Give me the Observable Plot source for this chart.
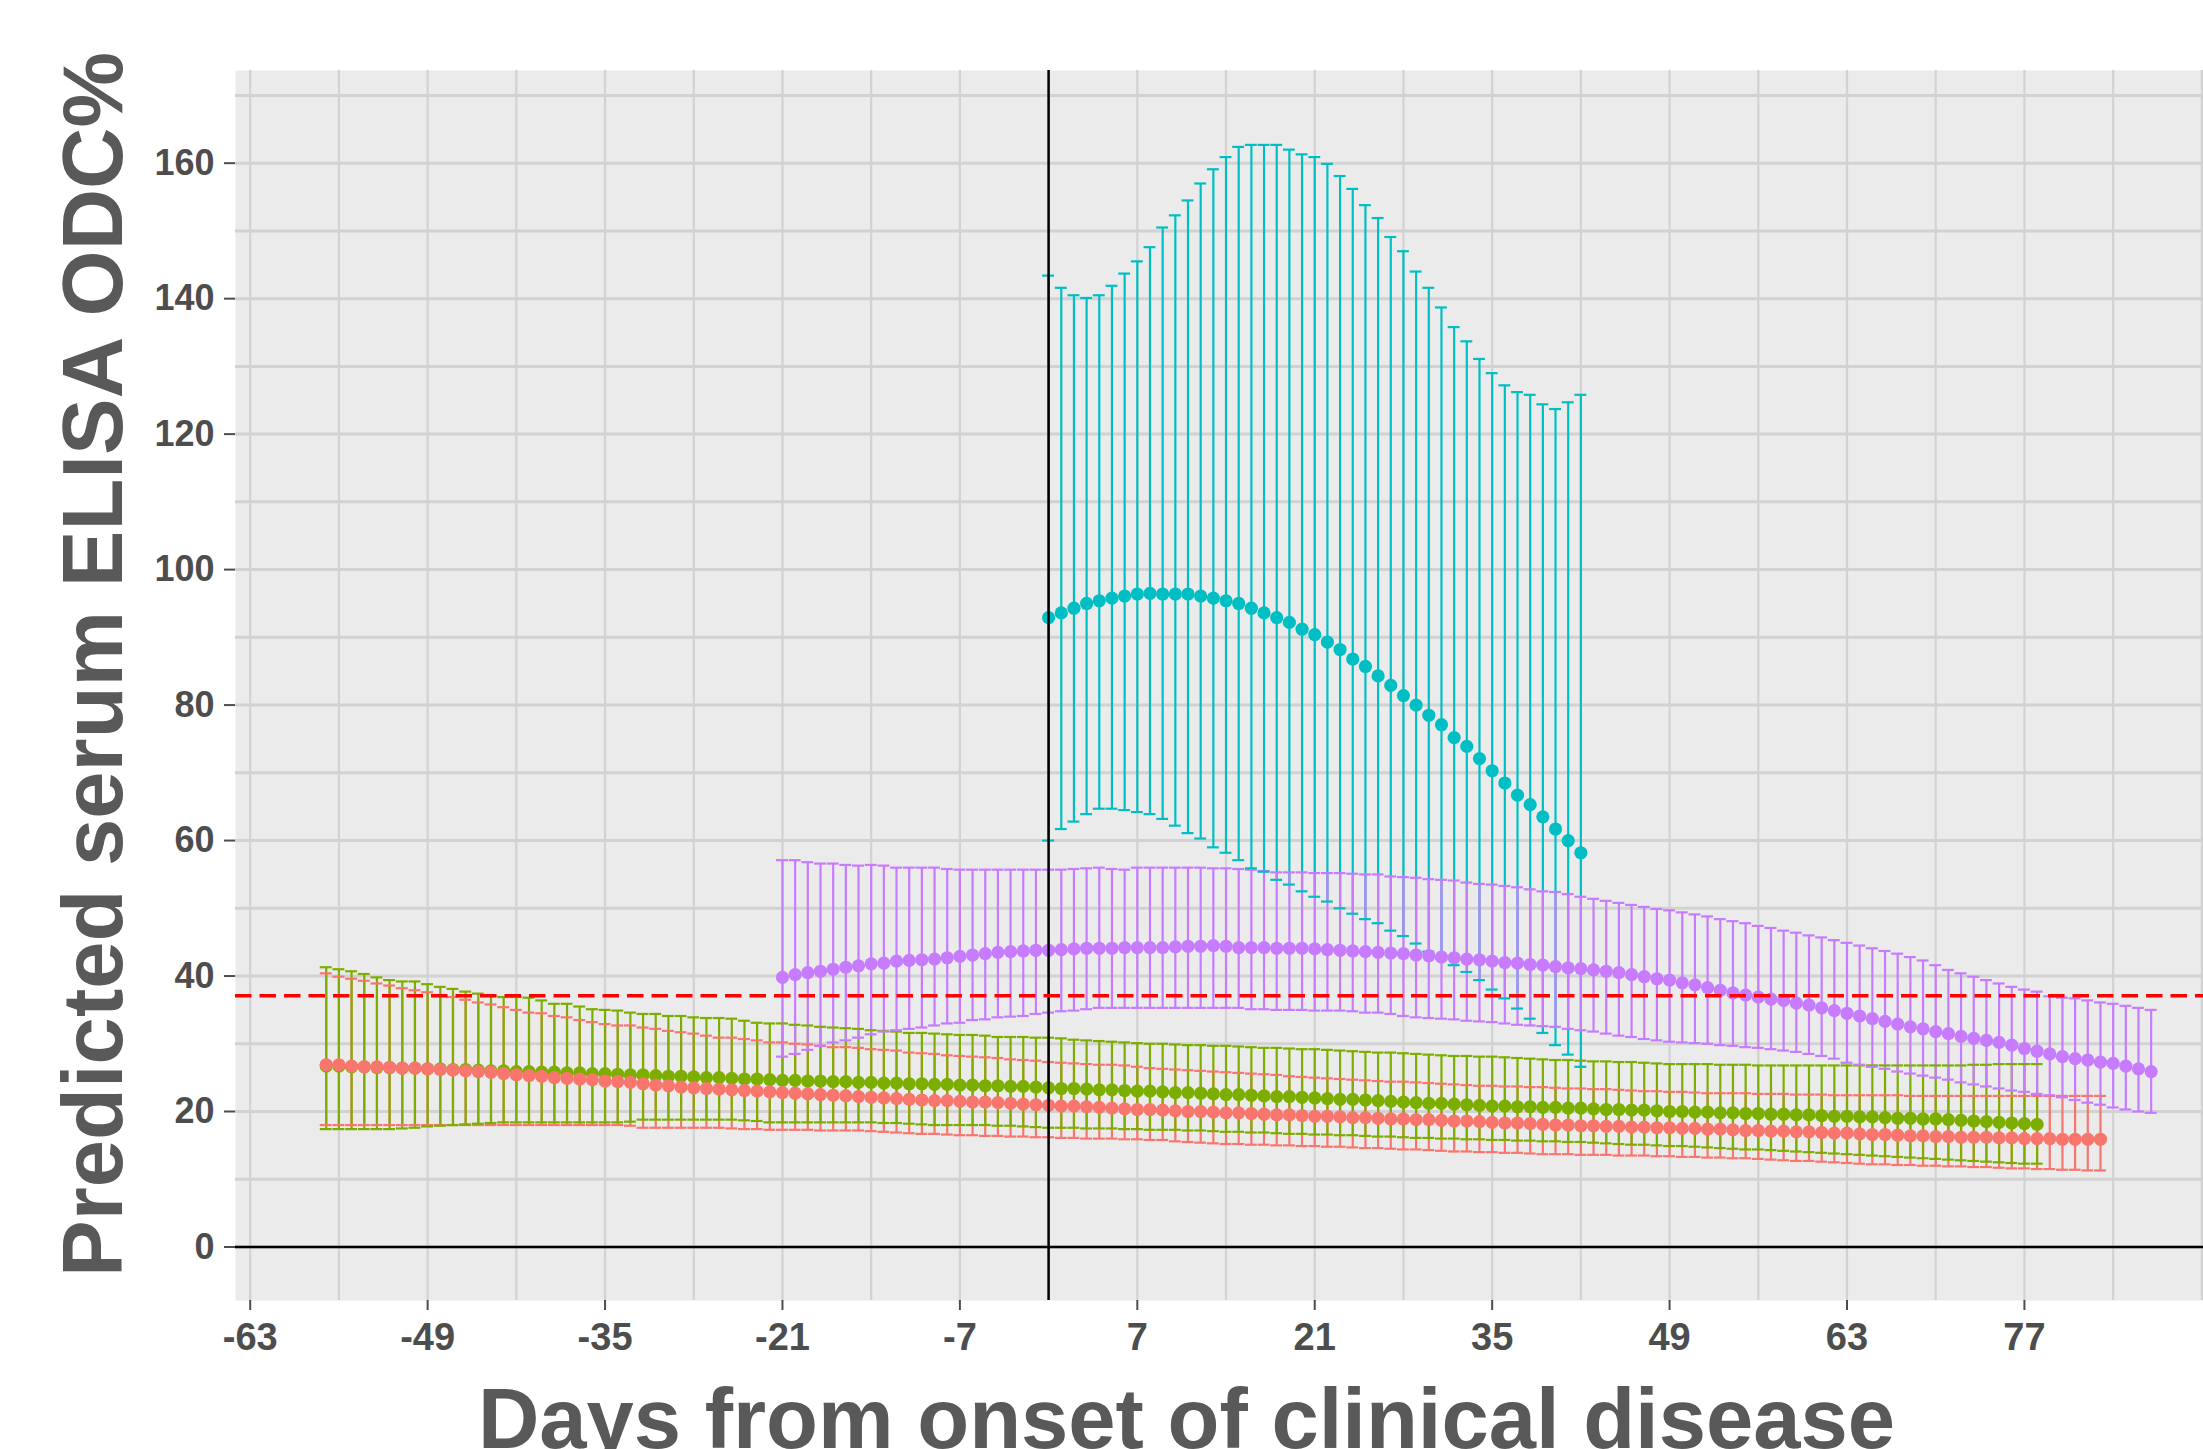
<!DOCTYPE html>
<html><head><meta charset="utf-8">
<script src="https://cdn.jsdelivr.net/npm/d3@7"></script>
<script src="https://cdn.jsdelivr.net/npm/@observablehq/plot@0.6"></script>
<style>
html,body{margin:0;padding:0;background:#fff;}
#chart svg{display:block;}
</style>
</head><body><div id="chart"></div>
<script>
// ---------- data ----------
const groupNames = ["Group 1", "Group 2", "Group 3", "Group 4"];
const groupColors = ["#F8766D", "#7CAE00", "#00BFC4", "#C77CFF"];

// Group 1 (salmon): days -57 .. 83
const redStart = -57;
const redMean = [
  26.9,26.9,26.7,26.6,26.6,26.5,26.4,26.4,26.3,26.2,
  26.1,26.0,25.9,25.8,25.6,25.4,25.3,25.2,25.0,24.9,
  24.8,24.7,24.5,24.4,24.3,24.1,23.9,23.8,23.6,23.5,
  23.4,23.3,23.2,23.1,23.0,22.9,22.8,22.7,22.6,22.5,
  22.4,22.3,22.2,22.1,22.0,21.9,21.8,21.7,21.6,21.6,
  21.5,21.4,21.4,21.3,21.2,21.1,21.0,20.9,20.8,20.8,
  20.7,20.6,20.5,20.4,20.3,20.3,20.2,20.1,20.0,20.0,
  19.9,19.8,19.8,19.7,19.6,19.5,19.5,19.4,19.3,19.3,
  19.2,19.1,19.1,19.0,18.9,18.9,18.8,18.8,18.7,18.6,
  18.6,18.5,18.4,18.3,18.3,18.2,18.1,18.0,18.0,17.9,
  17.9,17.8,17.8,17.7,17.7,17.6,17.6,17.5,17.5,17.4,
  17.4,17.3,17.2,17.2,17.1,17.1,17.0,17.0,16.9,16.8,
  16.8,16.7,16.6,16.6,16.5,16.4,16.4,16.3,16.3,16.2,
  16.2,16.2,16.1,16.1,16.0,16.0,16.0,15.9,15.9,15.9,
  15.9
];
const redHi = [
  40.4,39.9,39.6,39.3,38.9,38.6,38.2,37.9,37.6,37.2,
  36.9,36.5,36.1,35.8,35.4,35.0,34.6,34.5,34.1,33.9,
  33.5,33.2,32.9,32.7,32.7,32.4,32.2,31.9,31.7,31.5,
  31.2,30.9,30.9,30.7,30.5,30.2,30.2,30.0,29.9,29.7,
  29.5,29.5,29.4,29.2,29.1,29.0,28.7,28.6,28.5,28.3,
  28.2,28.1,28.0,27.9,27.7,27.6,27.5,27.3,27.2,27.1,
  27.0,26.9,26.9,26.8,26.6,26.4,26.3,26.2,26.1,26.0,
  25.9,25.8,25.7,25.6,25.5,25.4,25.2,25.1,25.0,24.9,
  24.8,24.7,24.6,24.5,24.4,24.4,24.3,24.2,24.1,24.0,
  23.9,23.8,23.8,23.7,23.7,23.6,23.6,23.5,23.4,23.4,
  23.3,23.3,23.2,23.1,23.0,23.0,22.9,22.9,22.8,22.7,
  22.7,22.7,22.7,22.6,22.6,22.6,22.5,22.5,22.5,22.4,
  22.4,22.4,22.4,22.4,22.4,22.3,22.3,22.3,22.3,22.3,
  22.3,22.3,22.3,22.3,22.3,22.3,22.3,22.3,22.3,22.3,
  22.3
];
const redLo = [
  18.0,18.0,18.0,18.0,18.0,18.0,18.0,18.0,18.0,18.0,
  18.0,18.0,18.0,18.0,18.0,18.0,18.0,18.0,18.0,18.0,
  18.0,18.0,18.0,18.0,17.9,17.6,17.6,17.6,17.6,17.6,
  17.6,17.6,17.5,17.4,17.4,17.3,17.3,17.3,17.3,17.2,
  17.2,17.2,17.2,17.1,17.0,16.9,16.8,16.7,16.7,16.6,
  16.5,16.5,16.4,16.4,16.3,16.3,16.2,16.2,16.1,16.1,
  16.0,16.0,16.0,15.9,15.9,15.8,15.8,15.6,15.5,15.4,
  15.3,15.2,15.2,15.1,15.1,15.0,15.0,14.9,14.9,14.8,
  14.8,14.7,14.6,14.6,14.5,14.4,14.4,14.3,14.2,14.1,
  14.1,14.0,14.0,13.9,13.9,13.8,13.7,13.7,13.7,13.6,
  13.6,13.6,13.5,13.5,13.5,13.4,13.4,13.3,13.3,13.2,
  13.2,13.1,13.1,13.0,12.9,12.8,12.7,12.7,12.6,12.5,
  12.4,12.3,12.2,12.2,12.1,12.1,12.0,12.0,11.9,11.9,
  11.8,11.8,11.7,11.6,11.6,11.5,11.5,11.4,11.4,11.3,
  11.3
];

// Group 2 (green): days -57 .. 78
const greenStart = -57;
const greenMean = [
  26.7,26.7,26.6,26.6,26.5,26.5,26.4,26.4,26.3,26.3,
  26.2,26.2,26.1,26.0,26.0,25.9,25.9,25.8,25.8,25.7,
  25.7,25.6,25.6,25.5,25.4,25.4,25.3,25.2,25.2,25.1,
  25.0,25.0,24.9,24.8,24.8,24.7,24.6,24.6,24.5,24.5,
  24.4,24.4,24.3,24.3,24.2,24.2,24.1,24.1,24.0,24.0,
  23.9,23.9,23.8,23.8,23.7,23.7,23.6,23.5,23.4,23.4,
  23.3,23.2,23.2,23.1,23.0,23.0,22.9,22.8,22.8,22.7,
  22.6,22.5,22.5,22.4,22.3,22.2,22.2,22.1,22.0,21.9,
  21.8,21.8,21.7,21.6,21.5,21.4,21.3,21.2,21.2,21.1,
  21.0,20.9,20.8,20.8,20.7,20.7,20.6,20.6,20.5,20.5,
  20.4,20.3,20.3,20.2,20.2,20.1,20.0,20.0,19.9,19.9,
  19.8,19.8,19.7,19.7,19.6,19.6,19.5,19.5,19.4,19.3,
  19.3,19.2,19.2,19.1,19.0,19.0,18.9,18.9,18.8,18.7,
  18.6,18.5,18.4,18.3,18.2,18.1
];
const greenHi = [
  41.3,41.0,40.7,40.3,39.8,39.4,39.2,39.2,38.8,38.4,
  38.1,37.7,37.4,37.1,36.9,36.9,36.8,36.4,35.9,35.9,
  35.5,35.1,35.0,34.9,34.6,34.4,34.4,34.1,34.1,33.9,
  33.8,33.8,33.7,33.4,33.1,33.0,33.0,32.8,32.7,32.5,
  32.4,32.3,32.2,32.0,31.9,31.8,31.6,31.6,31.5,31.4,
  31.3,31.3,31.2,31.0,31.0,31.0,30.9,30.9,30.8,30.6,
  30.5,30.4,30.3,30.2,30.1,30.0,30.0,29.9,29.8,29.8,
  29.7,29.7,29.6,29.5,29.4,29.4,29.3,29.2,29.2,29.1,
  29.0,28.9,28.8,28.7,28.7,28.6,28.5,28.4,28.3,28.2,
  28.2,28.1,28.1,28.0,27.9,27.8,27.7,27.6,27.6,27.5,
  27.4,27.4,27.3,27.3,27.2,27.1,27.0,27.0,27.0,27.0,
  26.9,26.9,26.9,26.8,26.8,26.8,26.8,26.8,26.8,26.8,
  26.8,26.8,26.8,26.8,26.8,26.8,26.8,26.8,26.8,26.8,
  26.9,26.9,27.0,27.0,27.0,27.0
];
const greenLo = [
  17.4,17.4,17.4,17.4,17.4,17.4,17.5,17.6,17.8,17.9,
  18.0,18.1,18.2,18.3,18.4,18.4,18.4,18.4,18.4,18.4,
  18.4,18.4,18.4,18.4,18.5,18.8,18.8,18.8,18.8,18.8,
  18.8,18.8,18.8,18.7,18.6,18.4,18.4,18.4,18.4,18.4,
  18.4,18.4,18.4,18.4,18.3,18.3,18.2,18.1,18.0,18.0,
  18.0,18.0,18.0,17.9,17.9,17.8,17.7,17.6,17.6,17.6,
  17.5,17.5,17.5,17.4,17.4,17.3,17.3,17.3,17.2,17.2,
  17.1,17.0,17.0,16.9,16.9,16.8,16.7,16.7,16.6,16.6,
  16.5,16.5,16.4,16.3,16.3,16.2,16.1,16.1,16.0,16.0,
  15.9,15.9,15.8,15.8,15.7,15.7,15.6,15.6,15.5,15.5,
  15.4,15.3,15.2,15.1,15.1,15.0,14.9,14.9,14.8,14.7,
  14.6,14.5,14.4,14.4,14.3,14.2,14.1,14.0,13.9,13.8,
  13.7,13.6,13.5,13.4,13.3,13.2,13.1,13.0,12.9,12.8,
  12.7,12.6,12.5,12.4,12.3,12.3
];

// Group 3 (cyan): days 0 .. 42
const cyanStart = 0;
const cyanMean = [
  92.9,93.6,94.3,95.0,95.4,95.8,96.1,96.4,96.5,96.4,
  96.4,96.4,96.1,95.8,95.4,95.0,94.3,93.6,92.9,92.2,
  91.2,90.4,89.3,88.2,86.8,85.7,84.3,82.9,81.4,80.0,
  78.5,77.1,75.2,73.9,72.1,70.3,68.5,66.7,65.3,63.5,
  61.7,60.0,58.2
];
const cyanHi = [
  143.4,141.6,140.5,140.1,140.5,141.9,143.7,145.5,147.6,150.5,
  152.3,154.5,157.0,159.1,160.9,162.4,162.7,162.7,162.7,162.0,
  161.3,160.9,159.9,158.1,156.2,153.8,151.9,149.1,147.0,144.0,
  141.6,138.7,135.8,133.7,131.1,129.0,127.2,126.2,125.8,124.4,
  123.7,124.7,125.8
];
const cyanLo = [
  60.0,61.7,62.8,63.9,64.7,64.7,64.5,64.2,63.9,63.2,
  62.2,61.1,60.3,59.0,58.2,57.1,55.9,55.4,54.2,53.5,
  52.5,51.7,51.0,50.0,49.2,48.4,47.8,46.7,45.9,44.8,
  43.6,42.6,41.6,40.6,39.4,38.0,36.7,35.2,33.7,31.6,
  29.8,28.4,26.6
];

// Group 4 (purple): days -21 .. 87
const purpleStart = -21;
const purpleMean = [
  39.8,40.2,40.5,40.7,41.0,41.3,41.5,41.8,41.9,42.2,
  42.3,42.4,42.5,42.7,42.9,43.1,43.3,43.5,43.6,43.7,
  43.8,43.8,43.9,44.0,44.1,44.1,44.1,44.2,44.2,44.2,
  44.2,44.3,44.4,44.4,44.5,44.4,44.2,44.2,44.2,44.1,
  44.1,44.1,44.0,43.9,43.8,43.7,43.6,43.5,43.4,43.3,
  43.1,43.0,42.8,42.7,42.5,42.4,42.2,42.0,41.9,41.7,
  41.6,41.4,41.2,41.1,40.9,40.7,40.5,40.2,39.9,39.6,
  39.4,39.0,38.7,38.3,37.9,37.5,37.2,36.9,36.6,36.4,
  36.0,35.7,35.3,34.9,34.5,34.1,33.7,33.3,32.9,32.5,
  32.2,31.8,31.5,31.1,30.8,30.5,30.2,29.8,29.3,28.9,
  28.5,28.1,27.8,27.6,27.3,27.1,26.7,26.3,25.9
];
const purpleHi = [
  57.1,57.1,56.8,56.6,56.6,56.4,56.3,56.4,56.3,56.0,
  56.0,56.0,56.0,55.8,55.7,55.7,55.7,55.7,55.7,55.7,
  55.7,55.7,55.7,55.8,55.9,56.0,55.8,55.7,56.0,56.0,
  56.0,56.0,56.0,56.0,55.9,55.9,55.8,55.7,55.5,55.3,
  55.3,55.3,55.2,55.2,55.2,55.1,55.0,55.0,54.7,54.6,
  54.5,54.3,54.2,54.1,53.8,53.6,53.5,53.3,53.1,52.8,
  52.5,52.4,52.1,51.7,51.4,51.1,50.8,50.5,50.2,49.9,
  49.7,49.4,49.1,48.8,48.4,48.1,47.8,47.4,47.1,46.7,
  46.4,46.0,45.7,45.3,44.9,44.5,44.1,43.7,43.3,42.8,
  42.3,41.6,40.9,40.4,39.9,39.4,38.9,38.4,38.0,37.7,
  37.0,36.8,36.7,36.4,36.1,35.9,35.6,35.3,35.0
];
const purpleLo = [
  28.1,28.5,29.1,29.7,30.2,30.5,30.9,31.4,31.8,32.0,
  32.2,32.4,32.7,33.0,33.1,33.5,33.6,33.9,34.0,34.1,
  34.4,34.6,34.8,34.9,35.1,35.3,35.3,35.3,35.3,35.3,
  35.3,35.3,35.3,35.3,35.3,35.3,35.3,35.1,35.1,35.0,
  35.0,35.0,34.9,34.9,34.9,34.8,34.6,34.6,34.4,34.1,
  33.9,33.8,33.7,33.6,33.4,33.3,33.2,33.0,32.8,32.7,
  32.6,32.5,32.2,32.0,31.8,31.5,31.2,31.0,30.7,30.5,
  30.3,30.2,30.1,30.0,29.8,29.7,29.5,29.4,29.2,29.0,
  28.8,28.5,28.2,27.8,27.2,26.9,26.6,26.3,25.9,25.6,
  25.3,25.0,24.7,24.3,24.0,23.7,23.4,23.1,22.9,22.6,
  22.4,22.1,21.7,21.3,21.0,20.6,20.3,20.0,19.8
];

const cutoff = 37.1;
const xTicks = [-63, -49, -35, -21, -7, 7, 21, 35, 49, 63, 77];
const xGrid = [-63,-56,-49,-42,-35,-28,-21,-14,-7,0,7,14,21,28,35,42,49,56,63,70,77,84,91];
const yTicks = [0, 20, 40, 60, 80, 100, 120, 140, 160];
const yGrid = [0,10,20,30,40,50,60,70,80,90,100,110,120,130,140,150,160,170];
const xTitle = "Days from onset of clinical disease";
const yTitle = "Predicted serum ELISA ODC%";

// ---------- table ----------
function rowsFor(name, start, mean, lo, hi) {
  return mean.map((m, i) => ({group: name, day: start + i, mean: m, lo: lo[i], hi: hi[i]}));
}
const rRows = rowsFor(groupNames[0], redStart, redMean, redLo, redHi);
const gRows = rowsFor(groupNames[1], greenStart, greenMean, greenLo, greenHi);
const cRows = rowsFor(groupNames[2], cyanStart, cyanMean, cyanLo, cyanHi);
const pRows = rowsFor(groupNames[3], purpleStart, purpleMean, purpleLo, purpleHi);
const barRows = [...rRows, ...gRows, ...cRows, ...pRows];
const dotRows = [...gRows, ...rRows, ...cRows, ...pRows];

const capHalf = 0.47;
const font = "'Liberation Sans', Arial, Helvetica, sans-serif";

const chart = Plot.plot({
  width: 2203,
  height: 1449,
  marginLeft: 235,
  marginRight: 0,
  marginTop: 70,
  marginBottom: 149,
  style: {background: "#ffffff", fontFamily: font, fontWeight: "bold", overflow: "visible"},
  x: {domain: [-64.16, 91.13], label: null},
  y: {domain: [-7.9, 173.68], label: null},
  color: {domain: groupNames, range: groupColors},
  marks: [
    Plot.frame({fill: "#EBEBEB", stroke: "none"}),
    Plot.gridY(yGrid, {stroke: "#d2d2d2", strokeOpacity: 1, strokeWidth: 3}),
    Plot.gridX(xGrid, {stroke: "#d2d2d2", strokeOpacity: 1, strokeWidth: 2.2}),
    Plot.ruleY([0], {stroke: "#000", strokeWidth: 2.5}),
    Plot.ruleX(barRows, {x: "day", y1: "lo", y2: "hi", stroke: "group", strokeWidth: 2.2}),
    Plot.ruleY(barRows, {y: "hi", x1: d => d.day - capHalf, x2: d => d.day + capHalf, stroke: "group", strokeWidth: 2.2}),
    Plot.ruleY(barRows, {y: "lo", x1: d => d.day - capHalf, x2: d => d.day + capHalf, stroke: "group", strokeWidth: 2.2}),
    Plot.dot(dotRows, {x: "day", y: "mean", fill: "group", r: 6.6, stroke: "none"}),
    Plot.ruleX([0], {stroke: "#000", strokeWidth: 2.5}),
    Plot.ruleY([cutoff], {stroke: "#FF0000", strokeWidth: 3.4, strokeDasharray: "16.5,8"}),
    Plot.axisX(xTicks, {tickSize: 10, tickPadding: 13, fontSize: 38, fontWeight: "bold",
      tickFormat: d => String(d), color: "#4d4d4d", strokeWidth: 2, label: null}),
    Plot.axisY(yTicks, {tickSize: 11, tickPadding: 10, fontSize: 36, fontWeight: "bold",
      tickFormat: d => String(d), color: "#4d4d4d", strokeWidth: 2, label: null}),
    Plot.text([xTitle], {text: d => d, frameAnchor: "bottom", textAnchor: "middle", lineAnchor: "middle",
      dx: -33, dy: 120, fontSize: 85, fontWeight: "bold", fill: "#595959"}),
    Plot.text([yTitle], {text: d => d, frameAnchor: "left", rotate: -90, textAnchor: "middle", lineAnchor: "middle",
      dx: -141, dy: -21, fontSize: 85, fontWeight: "bold", fill: "#595959"})
  ]
});
document.getElementById("chart").appendChild(chart);
</script></body></html>
